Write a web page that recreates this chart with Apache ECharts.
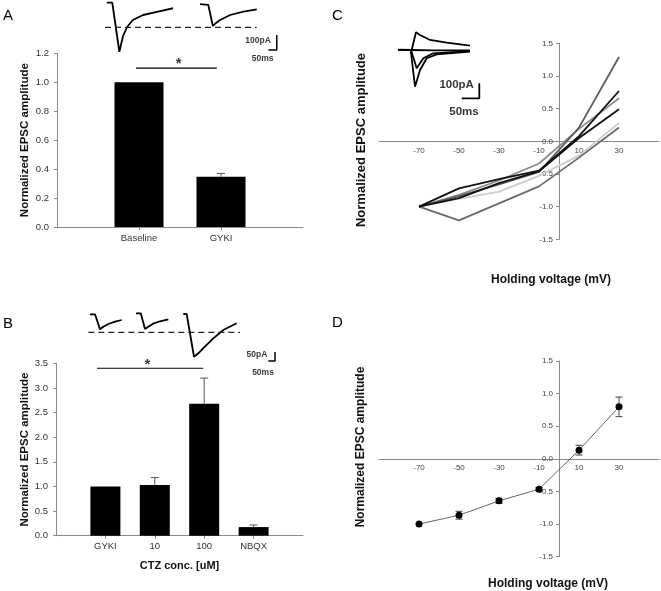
<!DOCTYPE html>
<html><head><meta charset="utf-8">
<script src="https://cdn.jsdelivr.net/npm/echarts@6/dist/echarts.min.js"></script>
<style>html,body{margin:0;padding:0;background:#fff}#c{width:661px;height:591px}</style>
</head><body><div id="c"></div>
<script>
// ---------- Panel A ----------
const aCategories = ['Baseline', 'GYKI'];
const aValues = [1.0, 0.348];
const aErrors = [0, 0.022];
const aBracket = [[0.963, 1.097], [1.948, 1.097]];
const aStar = [[1.484, 1.128]];
// ---------- Panel B ----------
const bCategories = ['GYKI', '10', '100', 'NBQX'];
const bValues = [1.0, 1.03, 2.68, 0.175];
const bErrors = [0, 0.15, 0.52, 0.042];
const bBracket = [[0.83, 3.40], [2.98, 3.40]];
const bStar = [[1.85, 3.47]];
// ---------- Panel C (individual cells) ----------
const holdingVoltages = [-70, -50, -30, -10, 10, 30];
const cellLight = [-1, -0.88, -0.77, -0.53, -0.22, 0.28];
const cellMid = [-1, -0.82, -0.60, -0.34, 0.19, 0.66];
const cellLow = [-1, -1.21, -0.95, -0.69, -0.25, 0.21];
const cellSteep = [-1, -0.84, -0.66, -0.47, 0.21, 1.29];
const cellBlack1 = [-1, -0.72, -0.58, -0.45, 0.08, 0.77];
const cellBlack2 = [-1, -0.87, -0.64, -0.46, 0.05, 0.49];
// ---------- Panel D (mean ± SEM) ----------
const dMeans = [-1.0, -0.864, -0.644, -0.465, 0.133, 0.797];
const dErrors = [0, 0.06, 0.04, 0.025, 0.075, 0.15];
// ---------- Example traces [ms, pA] ----------
const traceABaseline = [[40,2],[73,2],[115,-325],[137,-220],[161,-160],[196,-113],[256,-80],[345,-57],[434,-35]];
const traceAGyki = [[595,-7],[644,-13],[671,-153],[690,-133],[714,-113],[774,-80],[853,-58],[932,-42]];
const traceADashed = [[30,-162],[932,-162]];
const scaleBarA = [[1001,-313],[1051,-313],[1051,-213]];
const scaleTextA = [{name:'100pA', value:[940,-251]}, {name:'50ms', value:[967,-369]}];

const traceBGyki = [[37.5,-1.6],[75,-1.6],[112.5,-84],[137,-70],[175,-55],[225,-42],[275,-33]];
const traceB10 = [[382.5,3.9],[418,3.9],[450,-82.5],[475,-70],[512,-53],[562,-40],[625,-29]];
const traceB100 = [[737.5,0],[762.5,0],[817.5,-235],[850,-216],[887.5,-188],[962.5,-134],[1037.5,-88],[1137.5,-51]];
const traceBDashed = [[25,-100.7],[1162.5,-100.7]];
const scaleBarB = [[1375,-258.5],[1425,-258.5],[1425,-209]];
const scaleTextB = [{name:'50pA', value:[1290,-225.5]}, {name:'50ms', value:[1335,-324.5]}];

const traceCFlat = [[23.7,2],[60,0],[120,-3],[228,-3]];
const traceCPos = [[23.7,0],[61.8,0],[74.1,118],[85.5,100],[114,67],[161.6,49],[228,29]];
const traceCNeg70 = [[23.7,0],[59,0],[71.3,-245],[85.5,-133],[104.6,-55],[133,-29],[228,-11]];
const traceCNeg50 = [[23.7,0],[59.9,0],[76.1,-122],[94.9,-55],[123.4,-22],[228,-7]];
const scaleBarC = [[204.5,-322],[254.5,-322],[254.5,-222]];
const scaleTextC = [{name:'100pA', value:[190,-233]}, {name:'50ms', value:[211,-411]}];

const FF = 'Liberation Sans, Arial, sans-serif';
const AX = '#8a8a8a';
const chart = echarts.init(document.getElementById('c'));

function errUp(xi, yi, vals, errs) {
  return {type:'custom', xAxisIndex:xi, yAxisIndex:yi, z:5, clip:false,
    data: vals.map((v,i)=>[i+1, v, errs[i]]).filter(d=>d[2]>0),
    renderItem: (p, api) => {
      const x = api.value(0), y = api.value(1), e = api.value(2);
      const p0 = api.coord([x,y]), p1 = api.coord([x,y+e]);
      return {type:'group', children:[
        {type:'line', shape:{x1:p0[0],y1:p0[1],x2:p1[0],y2:p1[1]}, style:{stroke:'#555',lineWidth:1}},
        {type:'line', shape:{x1:p1[0]-4,y1:p1[1],x2:p1[0]+4,y2:p1[1]}, style:{stroke:'#555',lineWidth:1}}
      ]};
    }};
}
function errBoth(xi, yi, xs, vals, errs) {
  return {type:'custom', xAxisIndex:xi, yAxisIndex:yi, z:4, clip:false,
    data: vals.map((v,i)=>[xs[i], v, errs[i]]).filter(d=>d[2]>0),
    renderItem: (p, api) => {
      const x = api.value(0), y = api.value(1), e = api.value(2);
      const a = api.coord([x,y+e]), b = api.coord([x,y-e]);
      const st = {stroke:'#444',lineWidth:1};
      return {type:'group', children:[
        {type:'line', shape:{x1:a[0],y1:a[1],x2:b[0],y2:b[1]}, style:st},
        {type:'line', shape:{x1:a[0]-3.5,y1:a[1],x2:a[0]+3.5,y2:a[1]}, style:st},
        {type:'line', shape:{x1:b[0]-3.5,y1:b[1],x2:b[0]+3.5,y2:b[1]}, style:st}
      ]};
    }};
}
function trace(gi, data, opts) {
  return Object.assign({type:'line', xAxisIndex:gi, yAxisIndex:gi, data, symbol:'none', silent:true, clip:false,
    lineStyle:{color:'#000', width:1.8}}, opts||{});
}
function scaleText(gi, data, size) {
  return {type:'scatter', xAxisIndex:gi, yAxisIndex:gi, data, symbolSize:0, silent:true, clip:false,
    label:{show:true, position:'inside', formatter:'{b}', color:'#000', fontFamily:FF, fontWeight:'bold', fontSize:size}};
}
function cellLine(vals, color) {
  return {type:'line', xAxisIndex:2, yAxisIndex:2, data: holdingVoltages.map((v,i)=>[v, vals[i]]),
    symbol:'none', lineStyle:{color, width:1.8}};
}
const barAxisLabel = {color:'#333', fontFamily:FF, fontSize:9.5, margin:6};
const ivLabel = {color:'#444', fontFamily:FF, fontSize:8};
const hidden = (gi, min, max) => ({gridIndex:gi, type:'value', min, max, show:false});
function ivX(gi, off) {
  return {gridIndex:gi, type:'value', min:-90, max:50, interval:10, splitLine:{show:false}, offset:off,
    axisLine:{onZero:false, lineStyle:{color:AX}}, axisTick:{show:false},
    axisLabel:Object.assign({customValues:holdingVoltages, margin:5, formatter:v=>holdingVoltages.includes(v)?String(v):''}, ivLabel)};
}
function ivY(gi) {
  return {gridIndex:gi, type:'value', min:-1.5, max:1.5, interval:0.5, splitLine:{show:false}, offset:-180,
    axisLine:{show:true, onZero:false, lineStyle:{color:AX}}, axisTick:{show:true, length:3, lineStyle:{color:AX}},
    axisLabel:Object.assign({margin:6, formatter:v=>v.toFixed(1)}, ivLabel)};
}

const option = {
  animation:false,
  backgroundColor:'#fff',
  grid:[
    {left:57, top:53.3, width:246, height:173.7, containLabel:false, outerBoundsMode:'none'},
    {left:56, top:363.3, width:247, height:172.4, containLabel:false, outerBoundsMode:'none'},
    {left:379, top:43.3, width:280, height:196, containLabel:false, outerBoundsMode:'none'},
    {left:379, top:361, width:280, height:195.7, containLabel:false, outerBoundsMode:'none'},
    {left:100, top:0, width:185, height:60, containLabel:false, outerBoundsMode:'none'},
    {left:85, top:300, width:195, height:80, containLabel:false, outerBoundsMode:'none'},
    {left:390, top:20, width:100, height:100, containLabel:false, outerBoundsMode:'none'}
  ],
  xAxis:[
    {gridIndex:0, type:'value', min:0, max:3, interval:1, splitLine:{show:false},
     axisLine:{lineStyle:{color:AX}}, axisTick:{customValues:[1,2], length:3, lineStyle:{color:AX}},
     axisLabel:Object.assign({customValues:[1,2], formatter:v=>aCategories[v-1]||''}, barAxisLabel)},
    {gridIndex:1, type:'value', min:0, max:5, interval:1, splitLine:{show:false},
     axisLine:{lineStyle:{color:AX}}, axisTick:{customValues:[1,2,3,4], length:3, lineStyle:{color:AX}},
     axisLabel:Object.assign({customValues:[1,2,3,4], formatter:v=>bCategories[v-1]||''}, barAxisLabel),
     name:'CTZ conc. [uM]', nameLocation:'middle', nameGap:25,
     nameTextStyle:{fontFamily:FF, fontWeight:'bold', fontSize:11, color:'#111'}},
    ivX(2, -98), ivX(3, -97.85),
    hidden(4, 0, 1100), hidden(5, 0, 1462.5), hidden(6, 0, 285)
  ],
  yAxis:[
    {gridIndex:0, type:'value', min:0, max:1.2, interval:0.2, splitLine:{show:false},
     axisLine:{show:true, lineStyle:{color:AX}}, axisTick:{show:true, length:3, lineStyle:{color:AX}},
     axisLabel:Object.assign({}, barAxisLabel, {margin:8, formatter:v=>v.toFixed(1)}),
     name:'Normalized EPSC amplitude', nameLocation:'middle', nameGap:26,
     nameTextStyle:{fontFamily:FF, fontWeight:'bold', fontSize:11.5, color:'#111'}},
    {gridIndex:1, type:'value', min:0, max:3.5, interval:0.5, splitLine:{show:false},
     axisLine:{show:true, lineStyle:{color:AX}}, axisTick:{show:true, length:3, lineStyle:{color:AX}},
     axisLabel:Object.assign({}, barAxisLabel, {margin:8, formatter:v=>v.toFixed(1)}),
     name:'Normalized EPSC amplitude', nameLocation:'middle', nameGap:25.5,
     nameTextStyle:{fontFamily:FF, fontWeight:'bold', fontSize:11.5, color:'#111'}},
    ivY(2), ivY(3),
    hidden(4, -380, 20), hidden(5, -363, 77), hidden(6, -466.7, 200)
  ],
  graphic:[
    {type:'text', x:3, y:16, style:{text:'A', font:'15px '+FF, fill:'#000', textVerticalAlign:'middle'}},
    {type:'text', x:3, y:323.5, style:{text:'B', font:'15px '+FF, fill:'#000', textVerticalAlign:'middle'}},
    {type:'text', x:332, y:16, style:{text:'C', font:'15px '+FF, fill:'#000', textVerticalAlign:'middle'}},
    {type:'text', x:332, y:322.5, style:{text:'D', font:'15px '+FF, fill:'#000', textVerticalAlign:'middle'}},
    {type:'text', x:361, y:140, rotation:Math.PI/2, style:{text:'Normalized EPSC amplitude', font:'bold 13px '+FF, fill:'#111', textAlign:'center', textVerticalAlign:'middle'}},
    {type:'text', x:551, y:280, style:{text:'Holding voltage (mV)', font:'bold 12px '+FF, fill:'#111', textAlign:'center', textVerticalAlign:'middle'}},
    {type:'text', x:361, y:447, rotation:Math.PI/2, style:{text:'Normalized EPSC amplitude', font:'bold 12px '+FF, fill:'#111', textAlign:'center', textVerticalAlign:'middle'}},
    {type:'text', x:548, y:584, style:{text:'Holding voltage (mV)', font:'bold 12px '+FF, fill:'#111', textAlign:'center', textVerticalAlign:'middle'}}
  ],
  series:[
    // A
    {type:'bar', xAxisIndex:0, yAxisIndex:0, data:aValues.map((v,i)=>[i+1,v]), barWidth:49, itemStyle:{color:'#000'}},
    errUp(0, 0, aValues, aErrors),
    {type:'line', xAxisIndex:0, yAxisIndex:0, data:aBracket, symbol:'none', clip:false, lineStyle:{color:'#000', width:1.2}},
    {type:'scatter', xAxisIndex:0, yAxisIndex:0, data:aStar, symbolSize:0, clip:false,
     label:{show:true, position:'inside', formatter:'*', fontSize:15, fontWeight:'bold', color:'#000', fontFamily:FF}},
    // B
    {type:'bar', xAxisIndex:1, yAxisIndex:1, data:bValues.map((v,i)=>[i+1,v]), barWidth:30, itemStyle:{color:'#000'}},
    errUp(1, 1, bValues, bErrors),
    {type:'line', xAxisIndex:1, yAxisIndex:1, data:bBracket, symbol:'none', clip:false, lineStyle:{color:'#000', width:1.2}},
    {type:'scatter', xAxisIndex:1, yAxisIndex:1, data:bStar, symbolSize:0, clip:false,
     label:{show:true, position:'inside', formatter:'*', fontSize:15, fontWeight:'bold', color:'#000', fontFamily:FF}},
    // C
    cellLine(cellLight, '#cdcdcd'),
    cellLine(cellMid, '#8c8c8c'),
    cellLine(cellLow, '#6a6a6a'),
    cellLine(cellSteep, '#5c5c5c'),
    cellLine(cellBlack2, '#111'),
    cellLine(cellBlack1, '#111'),
    // D
    errBoth(3, 3, holdingVoltages, dMeans, dErrors),
    {type:'line', xAxisIndex:3, yAxisIndex:3, data:holdingVoltages.map((v,i)=>[v,dMeans[i]]), z:5,
     symbol:'circle', symbolSize:7, itemStyle:{color:'#000'}, lineStyle:{color:'#666', width:1}},
    // insets
    trace(4, traceABaseline), trace(4, traceAGyki),
    trace(4, traceADashed, {lineStyle:{color:'#222', width:1.2, type:[6,4]}}),
    trace(4, scaleBarA, {lineStyle:{color:'#000', width:1.5}}),
    scaleText(4, scaleTextA, 8.5),
    trace(5, traceBGyki), trace(5, traceB10), trace(5, traceB100),
    trace(5, traceBDashed, {lineStyle:{color:'#222', width:1.2, type:[6,4]}}),
    trace(5, scaleBarB, {lineStyle:{color:'#000', width:1.5}}),
    scaleText(5, scaleTextB, 8.5),
    trace(6, traceCFlat), trace(6, traceCPos), trace(6, traceCNeg70), trace(6, traceCNeg50),
    trace(6, scaleBarC, {lineStyle:{color:'#000', width:1.8}}),
    scaleText(6, scaleTextC, 11.5)
  ]
};
chart.setOption(option);
</script></body></html>
